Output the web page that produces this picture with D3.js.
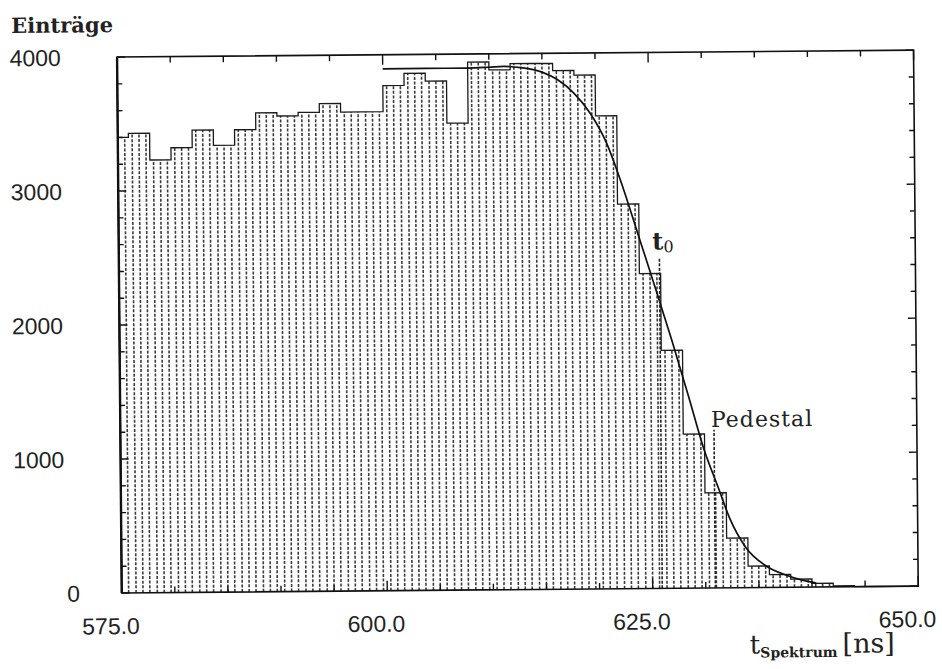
<!DOCTYPE html>
<html><head><meta charset="utf-8">
<script src="https://cdn.jsdelivr.net/npm/d3@7"></script>
<style>body{margin:0;background:#fff}svg{display:block}</style>
</head><body>
<svg id="chart" width="942" height="669"></svg>
<script>
// ---- data ----
const binStarts = [574,576,578,580,582,584,586,588,590,592,594,596,598,600,602,604,606,608,610,612,614,616,618,620,622,624,626,628,630,632,634,636,638,640,642,644,646,648];
const counts    = [3400,3430,3230,3320,3450,3335,3450,3575,3550,3575,3640,3575,3575,3770,3860,3800,3485,3940,3880,3925,3925,3870,3835,3530,2870,2350,1776,1150,710,370,160,95,60,28,8,0,0,0];
const binWidth = 2;
const fitT = [600.0,604.0,608.0,610.0,611.4,613.0,615.0,616.5,618.0,619.5,621.0,622.5,624.0,625.5,627.0,628.5,630.0,631.2,632.3,633.8,635.7,637.6,639.2,640.4];
const fitV = [3895,3895,3895,3900,3905,3895,3860,3800,3700,3550,3330,3000,2620,2240,1850,1440,1020,760,520,300,160,90,50,30];
const xTicks = [575,600,625,650];
const xTickLabels = ["575.0","600.0","625.0","650.0"];
const yTicks = [0,1000,2000,3000,4000];
const yTickLabels = ["0","1000","2000","3000","4000"];
const markerNames = ["t0","Pedestal"];
const markerT = [625.9,630.9];
const markerV = [2460,1180];

// ---- layout ----
const L = 119.5, R = 916, T = 54, B = 590;
const x = d3.scaleLinear().domain([575,650]).range([L,R]);
const y = d3.scaleLinear().domain([0,4000]).range([B,T]);

const svg = d3.select("#chart");
const g = svg.append("g").attr("transform","rotate(-0.5,471,334)");

// hatch fill (vertical dotted lines)
const hatch = [];
binStarts.forEach((s,i)=>{
  [0.35,1.0,1.65].forEach(o=>{
    const t = s+o;
    if (t>575.2 && t<650 && counts[i]>0) hatch.push({t, v:counts[i]});
  });
});
g.append("g").selectAll("line").data(hatch).join("line")
  .attr("x1",d=>x(d.t)).attr("x2",d=>x(d.t))
  .attr("y1",y(0)).attr("y2",d=>y(d.v))
  .attr("stroke","#3c3c3c").attr("stroke-width",1.6)
  .attr("stroke-dasharray","3,1.6");

// step outline
const pts = [[575,0]];
binStarts.forEach((s,i)=>{
  pts.push([Math.max(s,575),counts[i]]);
  pts.push([Math.min(s+binWidth,650),counts[i]]);
});
g.append("path").datum(pts)
  .attr("d",d3.line().x(d=>x(d[0])).y(d=>y(d[1])))
  .attr("fill","none").attr("stroke","#1a1a1a").attr("stroke-width",1.3);

// fit curve
g.append("path").datum(fitT.map((t,i)=>[t,fitV[i]]))
  .attr("d",d3.line().x(d=>x(d[0])).y(d=>y(d[1])).curve(d3.curveMonotoneX))
  .attr("fill","none").attr("stroke","#111").attr("stroke-width",1.7);

// markers
g.append("g").selectAll("line").data(markerT).join("line")
  .attr("x1",d=>x(d)).attr("x2",d=>x(d))
  .attr("y1",y(0)).attr("y2",(d,i)=>y(markerV[i]))
  .attr("stroke","#222").attr("stroke-width",1.6).attr("stroke-dasharray","3,1.6");

// frame
g.append("rect").attr("x",L).attr("y",T).attr("width",R-L).attr("height",B-T)
  .attr("fill","none").attr("stroke","#111").attr("stroke-width",1.6);
g.append("line").attr("x1",L).attr("x2",L).attr("y1",T).attr("y2",B)
  .attr("stroke","#111").attr("stroke-width",2.4);

// ticks
const xMinor = d3.range(575,651,5);
const yMinor = d3.range(0,4001,200);
const tk = g.append("g").attr("stroke","#111").attr("stroke-width",1.4);
xMinor.forEach(v=>{
  const len = (v%25===0)?10:6;
  tk.append("line").attr("x1",x(v)).attr("x2",x(v)).attr("y1",B).attr("y2",B-len);
  tk.append("line").attr("x1",x(v)).attr("x2",x(v)).attr("y1",T).attr("y2",T+len);
});
yMinor.forEach(v=>{
  const len = (v%1000===0)?8:5;
  tk.append("line").attr("x1",L).attr("x2",L+len).attr("y1",y(v)).attr("y2",y(v));
  tk.append("line").attr("x1",R).attr("x2",R-len).attr("y1",y(v)).attr("y2",y(v));
});

// tick labels
const sans = "'Liberation Sans', Arial, sans-serif";
g.append("g").selectAll("text").data(xTicks).join("text")
  .attr("x",d=>x(d)-11).attr("y",631)
  .attr("text-anchor","middle").attr("font-family",sans).attr("font-size",23)
  .attr("fill","#222").text((d,i)=>xTickLabels[i]);
g.append("g").selectAll("text").data(yTicks).join("text")
  .attr("x",d=>d===0?65:12).attr("y",d=>y(d)).attr("dy","0.36em")
  .attr("font-family",sans).attr("font-size",23)
  .attr("fill","#222").text((d,i)=>yTickLabels[i]);

// titles
const serif = "'DejaVu Serif', serif";
g.append("text").attr("x",14).attr("y",29).attr("font-family",serif)
  .attr("font-size",21).attr("font-weight","bold").attr("fill","#222").text("Einträge");

const xt = g.append("text").attr("x",747).attr("y",656).attr("font-family",serif).attr("fill","#222");
xt.append("tspan").attr("font-size",26).text("t");
xt.append("tspan").attr("font-size",14).attr("font-weight","bold").attr("dy",4).text("Spektrum");
xt.append("tspan").attr("font-size",27).attr("dy",-4).attr("dx",5).text("[ns]");

// marker labels
const t0 = g.append("text").attr("x",x(markerT[0])-7).attr("y",251).attr("font-family",serif).attr("fill","#222");
t0.append("tspan").attr("font-size",24).attr("font-weight","bold").text("t");
t0.append("tspan").attr("font-size",16).attr("dy",3).text("0");
g.append("text").attr("x",x(markerT[1])-3).attr("y",429).attr("font-family",serif)
  .attr("font-size",22).attr("letter-spacing",1).attr("fill","#222").text("Pedestal");
</script>
</body></html>
